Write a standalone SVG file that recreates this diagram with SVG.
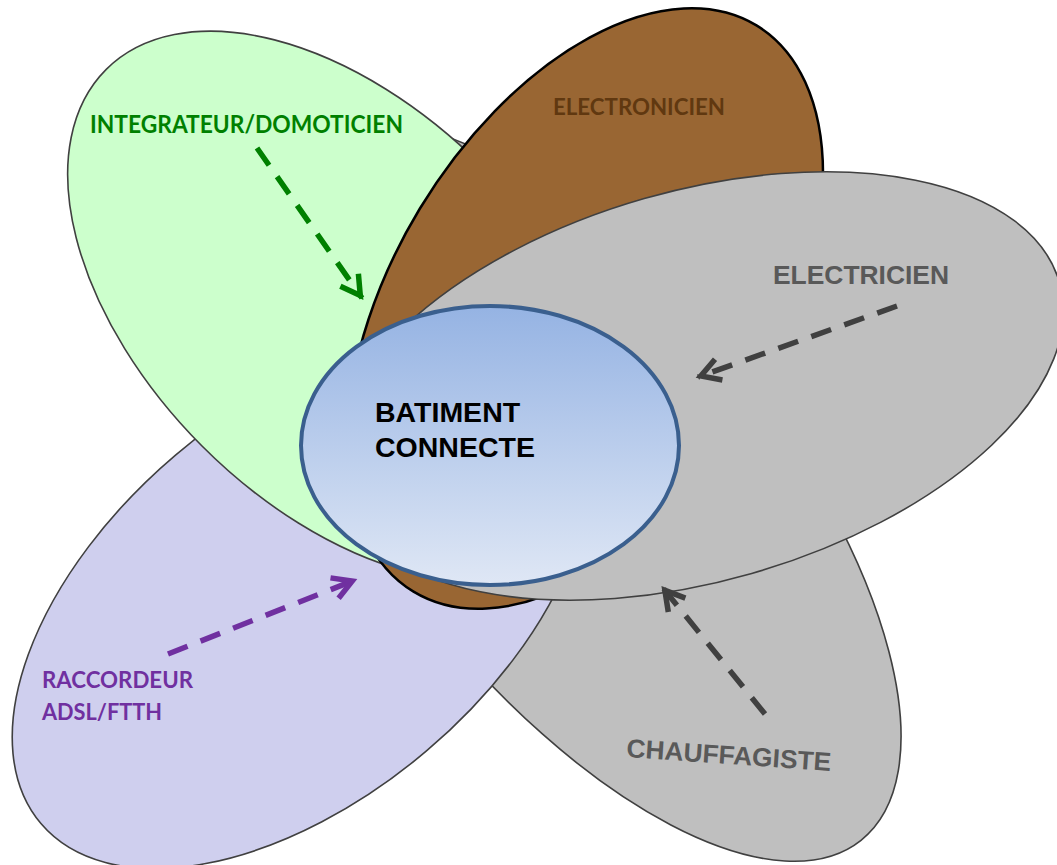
<svg xmlns="http://www.w3.org/2000/svg" width="1057" height="865" viewBox="0 0 1057 865">
<style>
.pet{stroke:#404040;stroke-width:1.6}
.arr{fill:none;stroke-width:5.5;stroke-dasharray:21 14}
.lbl{font-family:"Liberation Sans",Arial,sans-serif;font-weight:bold}
.cal{font-family:Lato,"Liberation Sans",sans-serif;font-weight:bold}
</style>
<defs>
<linearGradient id="cg" x1="0" y1="0" x2="0" y2="1">
<stop offset="0" stop-color="#95b3e3"/>
<stop offset="1" stop-color="#dfe7f5"/>
</linearGradient>
<marker id="mg" markerUnits="userSpaceOnUse" viewBox="-30 -16 34 32" refX="0" refY="0" markerWidth="34" markerHeight="32" orient="auto">
<path d="M-22,-11 L-3,0 L-22,11" fill="none" stroke="#008000" stroke-width="5.5"/>
</marker>
<marker id="mk" markerUnits="userSpaceOnUse" viewBox="-30 -16 34 32" refX="0" refY="0" markerWidth="34" markerHeight="32" orient="auto">
<path d="M-22,-11 L-3,0 L-22,11" fill="none" stroke="#404040" stroke-width="5.5"/>
</marker>
<marker id="mp" markerUnits="userSpaceOnUse" viewBox="-30 -16 34 32" refX="0" refY="0" markerWidth="34" markerHeight="32" orient="auto">
<path d="M-22,-11 L-3,0 L-22,11" fill="none" stroke="#7030a0" stroke-width="5.5"/>
</marker>
</defs>
<g id="chauffagiste">
<ellipse class="pet" cx="584" cy="492" rx="445" ry="197" fill="#bfbfbf" transform="rotate(51.5 584 492)"/>
</g>
<g id="raccordeur">
<ellipse class="pet" cx="301" cy="603" rx="341" ry="194" fill="#cfcfee" transform="rotate(-40.3 301 603)"/>
</g>
<g id="integrateur">
<ellipse class="pet" cx="342" cy="306" rx="334" ry="198" fill="#ccffcc" transform="rotate(45.1 342 306)"/>
</g>
<g id="electronicien">
<ellipse cx="585" cy="308.5" rx="331" ry="193" fill="#996633" stroke="#000" stroke-width="2.5" transform="rotate(-58.8 585 308.5)"/>
</g>
<g id="electricien">
<ellipse class="pet" cx="698" cy="386" rx="376" ry="195" fill="#bfbfbf" transform="rotate(-16 698 386)"/>
</g>
<g id="batiment">
<ellipse cx="490" cy="445.5" rx="189" ry="139.5" fill="url(#cg)" stroke="#3a5f8e" stroke-width="4"/>
<text class="lbl" font-size="28.5" fill="#000"><tspan x="375" y="422">BATIMENT</tspan><tspan x="375" y="457">CONNECTE</tspan></text>
</g>
<g id="labels">
<text class="cal" x="90" y="133" font-size="24" fill="#008000" textLength="313" lengthAdjust="spacingAndGlyphs">INTEGRATEUR/DOMOTICIEN</text>
<text class="cal" x="553" y="115" font-size="22" fill="#603810" textLength="172" lengthAdjust="spacingAndGlyphs">ELECTRONICIEN</text>
<text class="lbl" x="773" y="284" font-size="26" fill="#595959" textLength="176" lengthAdjust="spacingAndGlyphs">ELECTRICIEN</text>
<text class="lbl" x="626" y="757" font-size="26" fill="#595959" textLength="205" lengthAdjust="spacingAndGlyphs" transform="rotate(3.9 626 757)">CHAUFFAGISTE</text>
<text class="cal" font-size="22" fill="#7030a0"><tspan x="42" y="688" textLength="151" lengthAdjust="spacingAndGlyphs">RACCORDEUR</tspan><tspan x="42" y="720" textLength="120" lengthAdjust="spacingAndGlyphs">ADSL/FTTH</tspan></text>
</g>
<g id="connectors">
<path class="arr" d="M257,148 L362,298" stroke="#008000" marker-end="url(#mg)"/>
<path class="arr" d="M897,306 L698,377" stroke="#404040" marker-end="url(#mk)"/>
<path class="arr" d="M168,654 L355,580" stroke="#7030a0" marker-end="url(#mp)"/>
<path class="arr" d="M765,714 L663,588" stroke="#404040" marker-end="url(#mk)"/>
</g>
</svg>
